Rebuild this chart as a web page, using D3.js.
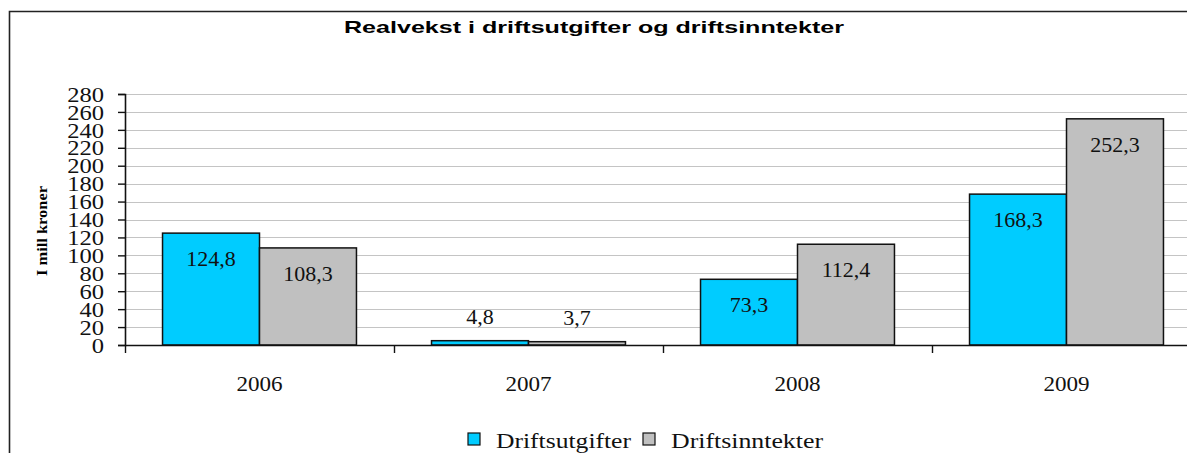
<!DOCTYPE html>
<html>
<head>
<meta charset="utf-8">
<script src="https://cdn.jsdelivr.net/npm/d3@7"></script>
<style>
  body { margin: 0; background: #fff; }
  svg { display: block; }
  .serif { font-family: "Liberation Serif", "Times New Roman", Times, serif; }
  .sans { font-family: "Liberation Sans", Arial, Helvetica, sans-serif; }
</style>
</head>
<body>
<div id="chart"></div>
<script>
const years = ['2006', '2007', '2008', '2009']
const seriesNames = ['Driftsutgifter', 'Driftsinntekter']
const driftsutgifter = [124.8, 4.8, 73.3, 168.3]
const driftsinntekter = [108.3, 3.7, 112.4, 252.3]
const yTicks = d3.range(0, 281, 20)

const colors = ['#00ccff', '#c0c0c0']

const width = 1187
const height = 453
const margin = { top: 94, left: 125, right: -14, bottom: 108 }

const svg = d3.select('#chart')
  .append('svg')
  .attr('width', width)
  .attr('height', height)

// outer frame (runs off the right and bottom edge)
svg.append('path')
  .attr('d', `M9.5,${height + 5}V11.5H${width + 5}`)
  .attr('fill', 'none')
  .attr('stroke', '#222')
  .attr('stroke-width', 1.6)

svg.append('text')
  .attr('class', 'sans')
  .text('Realvekst i driftsutgifter og driftsinntekter')
  .attr('x', 344)
  .attr('y', 33)
  .attr('textLength', 500)
  .attr('lengthAdjust', 'spacingAndGlyphs')
  .attr('font-weight', 'bold')
  .attr('font-size', 17)

const x0 = d3.scaleBand()
  .domain(years)
  .range([margin.left, width - margin.right])

const x1 = d3.scaleBand()
  .domain(seriesNames)
  .range([0, x0.bandwidth()])
  .paddingOuter(0.387)

const y = d3.scaleLinear()
  .domain([0, 280])
  .range([height - margin.bottom, margin.top])

const g = svg.append('g')

// gridlines
g.selectAll('.grid')
  .data(yTicks.slice(1))
  .enter()
  .append('line')
  .attr('x1', margin.left)
  .attr('x2', width)
  .attr('y1', d => Math.round(y(d)) + 0.5)
  .attr('y2', d => Math.round(y(d)) + 0.5)
  .attr('stroke', '#c4c4c4')
  .attr('stroke-width', 1)

const rows = years.map((yr, i) => ({
  year: yr,
  values: [driftsutgifter[i], driftsinntekter[i]]
}))

const groups = g.selectAll('.year')
  .data(rows)
  .enter()
  .append('g')
  .attr('transform', d => `translate(${x0(d.year)},0)`)

groups.selectAll('rect')
  .data(d => d.values.map((v, j) => ({ name: seriesNames[j], value: v, j })))
  .enter()
  .append('rect')
  .attr('x', d => x1(d.name))
  .attr('width', x1.bandwidth())
  .attr('y', d => y(d.value))
  .attr('height', d => y(0) - y(d.value))
  .attr('fill', d => colors[d.j])
  .attr('stroke', '#111')
  .attr('stroke-width', 1.5)

// value labels, slightly stretched like the source picture
groups.selectAll('text')
  .data(d => d.values.map((v, j) => ({ name: seriesNames[j], value: v, j })))
  .enter()
  .append('text')
  .attr('class', 'serif')
  .text(d => String(d.value).replace('.', ','))
  .attr('transform', function(d) {
    const cx = x1(d.name) + x1.bandwidth() / 2
    const cy = d.value > 20 ? y(d.value) + 33 : y(d.value) - 17
    return `translate(${cx},${cy}) scale(1.1,1)`
  })
  .attr('text-anchor', 'middle')
  .attr('font-size', 20)
  .attr('fill', '#111')

// y axis
const yAxis = d3.axisLeft(y)
  .tickValues(yTicks)
  .tickSize(7)
  .tickPadding(14)

g.append('g')
  .attr('transform', `translate(${margin.left},0)`)
  .call(yAxis)
  .call(a => a.attr('font-family', null).attr('font-size', null))
  .call(a => a.select('.domain').attr('stroke', '#111').attr('stroke-width', 1.6))
  .call(a => a.selectAll('.tick line').attr('stroke', '#111').attr('stroke-width', 1.4))
  .call(a => a.selectAll('.tick text')
    .attr('class', 'serif')
    .attr('font-size', 21)
    .attr('fill', '#111')
    .attr('x', -21 / 1.17)
    .attr('transform', 'scale(1.17,1)')
    .attr('dy', '0.34em'))

// x axis
const xAxis = d3.axisBottom(x0)
  .tickSize(0)
  .tickPadding(31)

g.append('g')
  .attr('transform', `translate(0,${y(0)})`)
  .call(xAxis)
  .call(a => a.attr('font-family', null).attr('font-size', null))
  .call(a => a.select('.domain').attr('stroke', '#111').attr('stroke-width', 1.6))
  .call(a => a.selectAll('.tick text')
    .attr('class', 'serif')
    .attr('font-size', 21)
    .attr('transform', 'scale(1.1,1)')
    .attr('fill', '#111'))

// category boundary ticks
g.selectAll('.cat-tick')
  .data(years)
  .enter()
  .append('line')
  .attr('x1', d => x0(d) + 0.5)
  .attr('x2', d => x0(d) + 0.5)
  .attr('y1', y(0))
  .attr('y2', y(0) + 8)
  .attr('stroke', '#111')
  .attr('stroke-width', 1.4)

svg.append('text')
  .attr('class', 'serif')
  .text('I mill kroner')
  .attr('transform', 'translate(47,231) rotate(-90)')
  .attr('text-anchor', 'middle')
  .attr('font-weight', 'bold')
  .attr('font-size', 15)
  .attr('textLength', 90)
  .attr('lengthAdjust', 'spacingAndGlyphs')

// legend
const legendItems = [
  { name: seriesNames[0], color: colors[0], x: 468, w: 135 },
  { name: seriesNames[1], color: colors[1], x: 643, w: 152 }
]

const legend = svg.selectAll('.legend')
  .data(legendItems)
  .enter()
  .append('g')
  .attr('transform', d => `translate(${d.x},433)`)

legend.append('rect')
  .attr('width', 12)
  .attr('height', 12)
  .attr('fill', d => d.color)
  .attr('stroke', '#111')
  .attr('stroke-width', 1.2)

legend.append('text')
  .attr('class', 'serif')
  .text(d => d.name)
  .attr('x', 28)
  .attr('y', 15)
  .attr('textLength', d => d.w)
  .attr('lengthAdjust', 'spacingAndGlyphs')
  .attr('font-size', 22)
  .attr('fill', '#111')
</script>
</body>
</html>
